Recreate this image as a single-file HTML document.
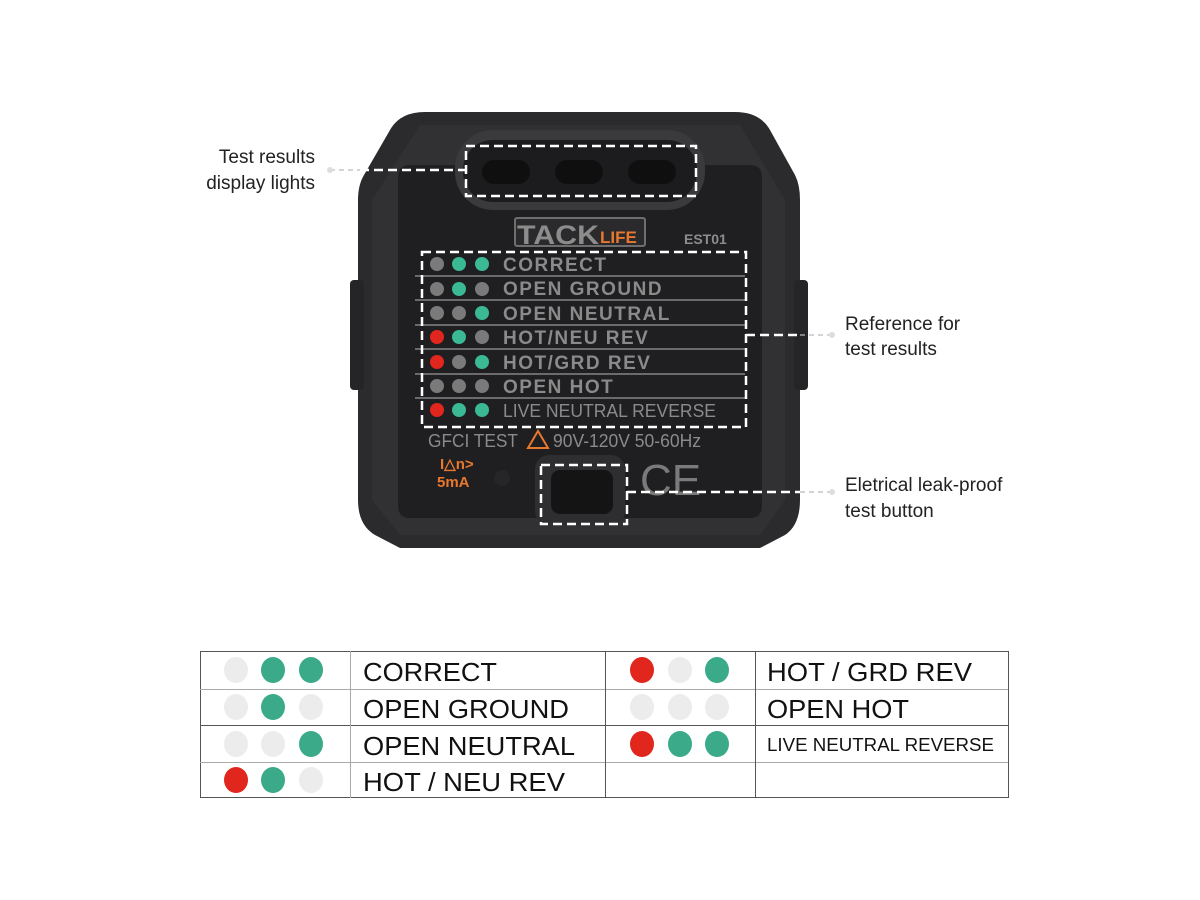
<!DOCTYPE html>
<html><head><meta charset="utf-8"><style>
html,body{margin:0;padding:0;background:#fff;}
svg{display:block;font-family:"Liberation Sans",Arial,sans-serif;}
</style></head><body>
<svg width="1200" height="900" viewBox="0 0 1200 900" xmlns="http://www.w3.org/2000/svg">
<rect width="1200" height="900" fill="#fff"/>
<!-- body -->
<path d="M425,112 L735,112 Q760,112 770,130 L795,175 Q800,185 800,200 L800,500 Q800,525 785,535 L760,548 L400,548 L375,535 Q358,525 358,500 L358,200 Q358,185 364,175 L390,130 Q400,112 425,112 Z" fill="#2b2b2d"/>
<path d="M420,125 L740,125 L785,200 L785,500 L760,535 L400,535 L372,500 L372,200 Z" fill="#313133"/>
<rect x="350" y="280" width="14" height="110" rx="4" fill="#252527"/>
<rect x="794" y="280" width="14" height="110" rx="4" fill="#252527"/>
<path d="M410,165 L750,165 Q762,165 762,178 L762,505 Q762,518 750,518 L410,518 Q398,518 398,505 L398,178 Q398,165 410,165 Z" fill="#1f1f21"/>
<rect x="455" y="130" width="250" height="80" rx="38" fill="#3a3a3c"/>
<rect x="463" y="140" width="234" height="62" rx="30" fill="#1c1c1e"/>
<rect x="482" y="160" width="48" height="24" rx="12" fill="#0f0f10"/>
<rect x="555" y="160" width="48" height="24" rx="12" fill="#0f0f10"/>
<rect x="628" y="160" width="48" height="24" rx="12" fill="#0f0f10"/>
<!-- logo -->
<rect x="515" y="218" width="130" height="28" rx="2" fill="#2a2a2c" stroke="#6e6e6e" stroke-width="2"/>
<text x="517" y="244" font-size="27" font-weight="bold" fill="#8c8c8c" textLength="82" lengthAdjust="spacingAndGlyphs">TACK</text>
<text x="600" y="243" font-size="17" font-weight="bold" fill="#e8782e">LIFE</text>
<text x="684" y="244" font-size="14" font-weight="bold" fill="#8c8c8c">EST01</text>
<g stroke="#6b6b6b" stroke-width="2">
<line x1="415" y1="276" x2="745" y2="276"/><line x1="415" y1="300" x2="745" y2="300"/>
<line x1="415" y1="325" x2="745" y2="325"/><line x1="415" y1="349" x2="745" y2="349"/>
<line x1="415" y1="374" x2="745" y2="374"/><line x1="415" y1="398" x2="745" y2="398"/>
</g>
<g font-size="19" font-weight="bold" fill="#8a8a8a" letter-spacing="1.5">
<text x="503" y="271">CORRECT</text>
<text x="503" y="295">OPEN GROUND</text>
<text x="503" y="320">OPEN NEUTRAL</text>
<text x="503" y="344">HOT/NEU REV</text>
<text x="503" y="369">HOT/GRD REV</text>
<text x="503" y="393">OPEN HOT</text>
</g>
<text x="503" y="417" font-size="18" fill="#8a8a8a" textLength="213" lengthAdjust="spacingAndGlyphs">LIVE NEUTRAL REVERSE</text>
<g>
<circle cx="437" cy="264" r="7" fill="#7a7a7a"/><circle cx="459" cy="264" r="7" fill="#3bb894"/><circle cx="482" cy="264" r="7" fill="#3bb894"/>
<circle cx="437" cy="289" r="7" fill="#7a7a7a"/><circle cx="459" cy="289" r="7" fill="#3bb894"/><circle cx="482" cy="289" r="7" fill="#7a7a7a"/>
<circle cx="437" cy="313" r="7" fill="#7a7a7a"/><circle cx="459" cy="313" r="7" fill="#7a7a7a"/><circle cx="482" cy="313" r="7" fill="#3bb894"/>
<circle cx="437" cy="337" r="7" fill="#e0261d"/><circle cx="459" cy="337" r="7" fill="#3bb894"/><circle cx="482" cy="337" r="7" fill="#7a7a7a"/>
<circle cx="437" cy="362" r="7" fill="#e0261d"/><circle cx="459" cy="362" r="7" fill="#7a7a7a"/><circle cx="482" cy="362" r="7" fill="#3bb894"/>
<circle cx="437" cy="386" r="7" fill="#7a7a7a"/><circle cx="459" cy="386" r="7" fill="#7a7a7a"/><circle cx="482" cy="386" r="7" fill="#7a7a7a"/>
<circle cx="437" cy="410" r="7" fill="#e0261d"/><circle cx="459" cy="410" r="7" fill="#3bb894"/><circle cx="482" cy="410" r="7" fill="#3bb894"/>
</g>
<text x="428" y="447" font-size="18" fill="#8a8a8a" textLength="90" lengthAdjust="spacingAndGlyphs">GFCI TEST</text>
<path d="M538,431 L548,448 L528,448 Z" fill="none" stroke="#e8782e" stroke-width="2"/>
<text x="553" y="447" font-size="18" fill="#8a8a8a" textLength="148" lengthAdjust="spacingAndGlyphs">90V-120V 50-60Hz</text>
<text x="440" y="469" font-size="15" font-weight="bold" fill="#e8782e">I△n&gt;</text>
<text x="437" y="487" font-size="15" font-weight="bold" fill="#e8782e">5mA</text>
<circle cx="502" cy="478" r="8" fill="#262628"/>
<text x="640" y="495" font-size="44" fill="#7a7a7a">CE</text>
<rect x="535" y="455" width="90" height="70" rx="14" fill="#2e2e30"/>
<rect x="551" y="470" width="62" height="44" rx="9" fill="#141415"/>
<g fill="none" stroke="#fff" stroke-width="2.5" stroke-dasharray="9,5">
<rect x="466" y="146" width="230" height="50"/>
<rect x="422" y="252" width="324" height="175"/>
<rect x="541" y="465" width="86" height="59"/>
<line x1="360" y1="170" x2="466" y2="170"/>
<line x1="746" y1="335" x2="800" y2="335"/>
<line x1="627" y1="492" x2="800" y2="492"/>
</g>
<g fill="none" stroke="#bbb" stroke-width="1.2" stroke-dasharray="5,4">
<line x1="330" y1="170" x2="360" y2="170"/>
<line x1="800" y1="335" x2="830" y2="335"/>
<line x1="800" y1="492" x2="830" y2="492"/>
</g>
<circle cx="330" cy="170" r="3" fill="#ddd"/><circle cx="832" cy="335" r="3" fill="#ddd"/><circle cx="832" cy="492" r="3" fill="#ddd"/>
<g font-size="19" fill="#222">
<text x="315" y="163" text-anchor="end">Test results</text>
<text x="315" y="189" text-anchor="end">display lights</text>
<text x="845" y="330">Reference for</text>
<text x="845" y="355">test results</text>
<text x="845" y="491">Eletrical leak-proof</text>
<text x="845" y="517">test button</text>
</g>
<g stroke="#555" stroke-width="1" fill="none">
<rect x="200.5" y="651.5" width="808" height="146"/>
<line x1="200" y1="689.5" x2="1008" y2="689.5" stroke="#aaa"/>
<line x1="200" y1="725.5" x2="1008" y2="725.5"/>
<line x1="200" y1="762.5" x2="1008" y2="762.5" stroke="#aaa"/>
<line x1="350.5" y1="651" x2="350.5" y2="798" stroke="#aaa"/>
<line x1="605.5" y1="651" x2="605.5" y2="798"/>
<line x1="755.5" y1="651" x2="755.5" y2="798"/>
</g>
<g>
<ellipse cx="236" cy="670" rx="12" ry="13" fill="#ececec"/><ellipse cx="273" cy="670" rx="12" ry="13" fill="#3aaa88"/><ellipse cx="311" cy="670" rx="12" ry="13" fill="#3aaa88"/>
<ellipse cx="236" cy="707" rx="12" ry="13" fill="#ececec"/><ellipse cx="273" cy="707" rx="12" ry="13" fill="#3aaa88"/><ellipse cx="311" cy="707" rx="12" ry="13" fill="#ececec"/>
<ellipse cx="236" cy="744" rx="12" ry="13" fill="#ececec"/><ellipse cx="273" cy="744" rx="12" ry="13" fill="#ececec"/><ellipse cx="311" cy="744" rx="12" ry="13" fill="#3aaa88"/>
<ellipse cx="236" cy="780" rx="12" ry="13" fill="#e0261d"/><ellipse cx="273" cy="780" rx="12" ry="13" fill="#3aaa88"/><ellipse cx="311" cy="780" rx="12" ry="13" fill="#ececec"/>
<ellipse cx="642" cy="670" rx="12" ry="13" fill="#e0261d"/><ellipse cx="680" cy="670" rx="12" ry="13" fill="#ececec"/><ellipse cx="717" cy="670" rx="12" ry="13" fill="#3aaa88"/>
<ellipse cx="642" cy="707" rx="12" ry="13" fill="#ececec"/><ellipse cx="680" cy="707" rx="12" ry="13" fill="#ececec"/><ellipse cx="717" cy="707" rx="12" ry="13" fill="#ececec"/>
<ellipse cx="642" cy="744" rx="12" ry="13" fill="#e0261d"/><ellipse cx="680" cy="744" rx="12" ry="13" fill="#3aaa88"/><ellipse cx="717" cy="744" rx="12" ry="13" fill="#3aaa88"/>
</g>
<g font-size="26" fill="#111">
<text x="363" y="681" textLength="134" lengthAdjust="spacingAndGlyphs">CORRECT</text>
<text x="363" y="718" textLength="206" lengthAdjust="spacingAndGlyphs">OPEN GROUND</text>
<text x="363" y="755" textLength="212" lengthAdjust="spacingAndGlyphs">OPEN NEUTRAL</text>
<text x="363" y="791" textLength="202" lengthAdjust="spacingAndGlyphs">HOT / NEU REV</text>
<text x="767" y="681" textLength="205" lengthAdjust="spacingAndGlyphs">HOT / GRD REV</text>
<text x="767" y="718" textLength="142" lengthAdjust="spacingAndGlyphs">OPEN HOT</text>
<text x="767" y="751" font-size="18" textLength="227" lengthAdjust="spacingAndGlyphs">LIVE NEUTRAL REVERSE</text>
</g>
</svg>
</body></html>
